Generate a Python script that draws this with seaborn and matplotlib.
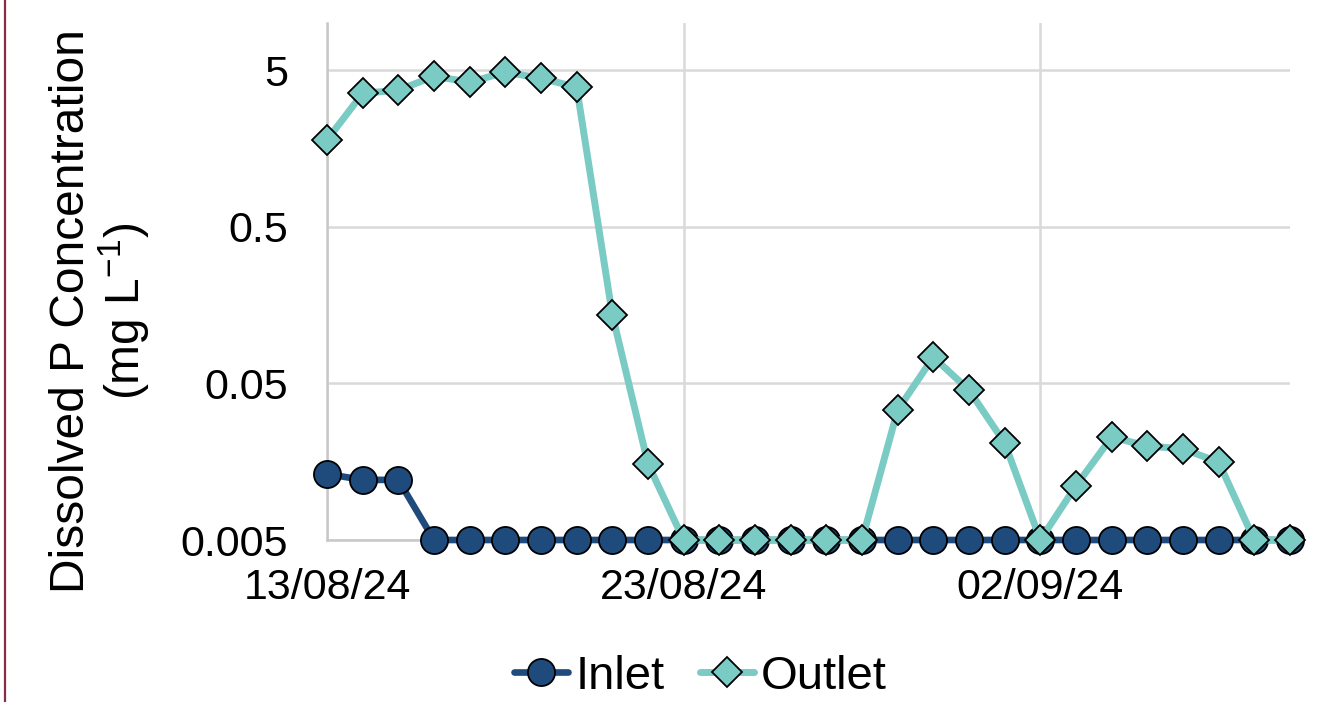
import matplotlib
matplotlib.use("Agg")
import matplotlib.pyplot as plt
import matplotlib.dates as mdates
from matplotlib.lines import Line2D
import pandas as pd
import seaborn as sns

# Sampling dates (daily)
dates = pd.date_range("2024-08-13", "2024-09-09", freq="D")

# Dissolved P concentration (mg L-1); 0.005 is the detection floor
inlet = [0.0132, 0.0121, 0.0121] + [0.005] * 25
outlet = [1.79, 3.56, 3.72, 4.57, 4.19, 4.85, 4.44, 3.89, 0.137, 0.0153,
          0.005, 0.005, 0.005, 0.005, 0.005, 0.005,
          0.0338, 0.0736, 0.0453, 0.0208, 0.005,
          0.0111, 0.0227, 0.0199, 0.0191, 0.0157, 0.005, 0.005]

series_names = ["Inlet", "Outlet"]
y_ticks = [0.005, 0.05, 0.5, 5]
y_tick_labels = ["0.005", "0.05", "0.5", "5"]
x_tick_dates = pd.to_datetime(["2024-08-13", "2024-08-23", "2024-09-02"])

df = pd.DataFrame({"date": dates, series_names[0]: inlet, series_names[1]: outlet})

sns.set_theme(style="white")
plt.rcParams["font.family"] = ["Liberation Sans", "DejaVu Sans"]
plt.rcParams["text.color"] = "black"
plt.rcParams["axes.labelcolor"] = "black"
plt.rcParams["mathtext.fontset"] = "custom"
plt.rcParams["mathtext.rm"] = "Liberation Sans"
TICK_FS = 31
LABEL_FS = 34.5
LEGEND_FS = 34

fig = plt.figure(figsize=(13.42, 7.02), dpi=100)
ax = fig.add_axes([327 / 1342, 1 - 540 / 702, (1290 - 327) / 1342, (540 - 23) / 702])

inlet_color = "#1F4A7C"
outlet_color = "#7ACBC4"

sns.lineplot(data=df, x="date", y=series_names[0], ax=ax, color=inlet_color, lw=4.8,
             marker="o", markersize=19.5, markerfacecolor=inlet_color,
             markeredgecolor="black", markeredgewidth=1.3, label=series_names[0],
             clip_on=False, zorder=3)
sns.lineplot(data=df, x="date", y=series_names[1], ax=ax, color=outlet_color, lw=5,
             marker="D", markersize=15, markerfacecolor=outlet_color,
             markeredgecolor="black", markeredgewidth=1.3, label=series_names[1],
             clip_on=False, zorder=4)

ax.set_yscale("log")
ax.set_ylim(0.005, 10)
ax.set_xlim(dates[0], dates[-1])
ax.set_yticks(y_ticks)
ax.set_yticklabels(y_tick_labels)
ax.yaxis.set_minor_locator(matplotlib.ticker.NullLocator())
ax.set_xticks(x_tick_dates)
ax.xaxis.set_major_formatter(mdates.DateFormatter("%d/%m/%y"))
ax.set_xticks([pd.Timestamp("2024-08-15")], minor=True)

ax.grid(True, which="major", color="#D9D9D9", lw=1.8)
ax.set_axisbelow(True)
for s in ["top", "right"]:
    ax.spines[s].set_visible(False)
for s in ["left", "bottom"]:
    ax.spines[s].set_color("#C8C8C8")
    ax.spines[s].set_linewidth(1.8)

ax.tick_params(axis="y", length=0, pad=28, labelsize=TICK_FS, labelcolor="black")
ax.tick_params(axis="x", which="major", length=9, width=1.3, color="#C8C8C8",
               direction="out", pad=11, labelsize=TICK_FS, labelcolor="black")
ax.tick_params(axis="x", which="minor", length=6, width=1.3, color="#C8C8C8",
               direction="in")

ax.set_xlabel("")
ax.set_ylabel("Dissolved P Concentration\n(mg L$\\mathregular{^{-1}}$)",
              fontsize=LABEL_FS, linespacing=1.05, color="black")
ax.yaxis.set_label_coords(-0.182, 0.443)

ax.legend(loc="center", bbox_to_anchor=(0.522, 0.036),
          bbox_transform=fig.transFigure, ncol=2, frameon=False,
          fontsize=LEGEND_FS, handlelength=1.15, handletextpad=0.15,
          columnspacing=0.75)

# Thin border on the left edge of the figure
fig.add_artist(Line2D([5 / 1342, 5 / 1342], [0, 1], transform=fig.transFigure,
                      color="#8A2A45", lw=1.6))

fig.savefig("out.png", dpi=100)
